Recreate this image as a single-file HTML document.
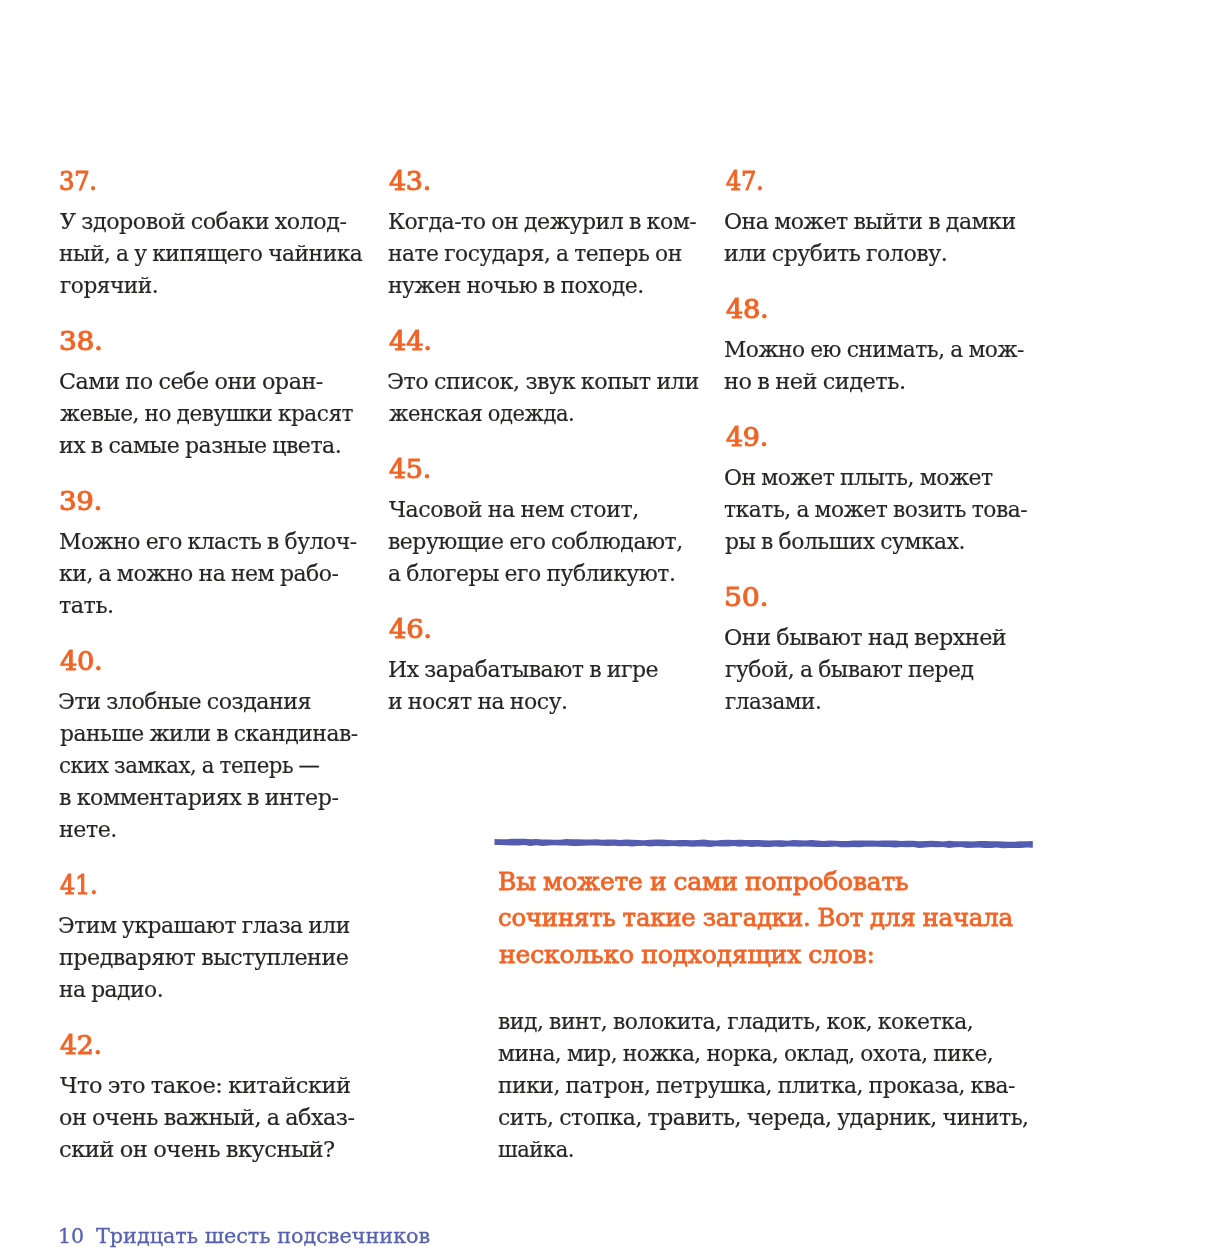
<!DOCTYPE html>
<html lang='ru'>
<head>
<meta charset='utf-8'>
<title>Тридцать шесть подсвечников</title>
<style>
html,body{margin:0;padding:0;background:#fff}
body{width:1226px;height:1255px;position:relative;overflow:hidden;font-family:'DejaVu Serif', 'Liberation Serif', serif}
h2,h3,p,article,section,aside,footer,main{margin:0;padding:0;font-weight:normal;font-size:inherit}
.l{position:absolute;white-space:nowrap;line-height:0;transform-origin:0 0;display:block;font-weight:normal}
.h{font-size:26px;color:#f26426;-webkit-text-stroke:1.0px #f26426;letter-spacing:-0.3px;word-spacing:0px;}
.b{font-size:22px;color:#262524;-webkit-text-stroke:0.15px #262524;letter-spacing:-0.5px;word-spacing:-0.8px;}
.o{font-size:25px;color:#f26426;-webkit-text-stroke:0.8px #f26426;letter-spacing:-0.2px;word-spacing:-0.5px;}
.f{font-size:20.5px;color:#5661b1;-webkit-text-stroke:0.3px #5661b1;}
</style>
</head>
<body>
<main>
<section class='col'>
<article>
<h2><span class='l h' style='left:59.27px;top:180.90px;transform:scaleX(0.9342)'>37.</span></h2>
<p><span class='l b' style='left:59.70px;top:222.30px;transform:scaleX(1.0120)'>У здоровой собаки холод-</span>
<span class='l b' style='left:58.71px;top:254.30px;transform:scaleX(0.9918)'>ный, а у кипящего чайника</span>
<span class='l b' style='left:59.70px;top:286.30px;transform:scaleX(0.9857)'>горячий.</span></p>
</article>
<article>
<h2><span class='l h' style='left:59.12px;top:340.90px;transform:scaleX(1.0763)'>38.</span></h2>
<p><span class='l b' style='left:58.69px;top:382.30px;transform:scaleX(1.0143)'>Сами по себе они оран-</span>
<span class='l b' style='left:59.70px;top:414.30px;transform:scaleX(0.9842)'>жевые, но девушки красят</span>
<span class='l b' style='left:58.70px;top:446.30px;transform:scaleX(1.0025)'>их в самые разные цвета.</span></p>
</article>
<article>
<h2><span class='l h' style='left:59.14px;top:500.90px;transform:scaleX(1.0632)'>39.</span></h2>
<p><span class='l b' style='left:58.70px;top:542.30px;transform:scaleX(0.9953)'>Можно его класть в булоч-</span>
<span class='l b' style='left:58.70px;top:574.30px;transform:scaleX(0.9993)'>ки, а можно на нем рабо-</span>
<span class='l b' style='left:58.69px;top:606.30px;transform:scaleX(1.0135)'>тать.</span></p>
</article>
<article>
<h2><span class='l h' style='left:60.20px;top:660.90px;transform:scaleX(1.0487)'>40.</span></h2>
<p><span class='l b' style='left:57.68px;top:702.30px;transform:scaleX(1.0076)'>Эти злобные создания</span>
<span class='l b' style='left:59.70px;top:734.30px;transform:scaleX(0.9940)'>раньше жили в скандинав-</span>
<span class='l b' style='left:58.73px;top:766.30px;transform:scaleX(0.9683)'>ских замках, а теперь —</span>
<span class='l b' style='left:58.69px;top:798.30px;transform:scaleX(1.0083)'>в комментариях в интер-</span>
<span class='l b' style='left:58.69px;top:830.30px;transform:scaleX(1.0073)'>нете.</span></p>
</article>
<article>
<h2><span class='l h' style='left:60.20px;top:884.90px;transform:scaleX(0.9256)'>41.</span></h2>
<p><span class='l b' style='left:57.71px;top:926.30px;transform:scaleX(0.9935)'>Этим украшают глаза или</span>
<span class='l b' style='left:58.69px;top:958.30px;transform:scaleX(1.0095)'>предваряют выступление</span>
<span class='l b' style='left:58.71px;top:990.30px;transform:scaleX(0.9903)'>на радио.</span></p>
</article>
<article>
<h2><span class='l h' style='left:60.20px;top:1044.90px;transform:scaleX(1.0282)'>42.</span></h2>
<p><span class='l b' style='left:59.70px;top:1086.30px;transform:scaleX(1.0261)'>Что это такое: китайский</span>
<span class='l b' style='left:58.69px;top:1118.30px;transform:scaleX(1.0134)'>он очень важный, а абхаз-</span>
<span class='l b' style='left:58.67px;top:1150.30px;transform:scaleX(1.0273)'>ский он очень вкусный?</span></p>
</article>
</section>
<section class='col'>
<article>
<h2><span class='l h' style='left:389.10px;top:180.90px;transform:scaleX(1.0359)'>43.</span></h2>
<p><span class='l b' style='left:387.60px;top:222.30px;transform:scaleX(1.0029)'>Когда-то он дежурил в ком-</span>
<span class='l b' style='left:387.61px;top:254.30px;transform:scaleX(0.9912)'>нате государя, а теперь он</span>
<span class='l b' style='left:387.60px;top:286.30px;transform:scaleX(0.9961)'>нужен ночью в походе.</span></p>
</article>
<article>
<h2><span class='l h' style='left:389.10px;top:340.90px;transform:scaleX(1.0564)'>44.</span></h2>
<p><span class='l b' style='left:386.57px;top:382.30px;transform:scaleX(1.0131)'>Это список, звук копыт или</span>
<span class='l b' style='left:388.60px;top:414.30px;transform:scaleX(0.9578)'>женская одежда.</span></p>
</article>
<article>
<h2><span class='l h' style='left:389.10px;top:468.90px;transform:scaleX(1.0359)'>45.</span></h2>
<p><span class='l b' style='left:388.60px;top:510.30px;transform:scaleX(1.0061)'>Часовой на нем стоит,</span>
<span class='l b' style='left:387.60px;top:542.30px;transform:scaleX(0.9980)'>верующие его соблюдают,</span>
<span class='l b' style='left:387.60px;top:574.30px;transform:scaleX(0.9958)'>а блогеры его публикуют.</span></p>
</article>
<article>
<h2><span class='l h' style='left:389.10px;top:628.90px;transform:scaleX(1.0564)'>46.</span></h2>
<p><span class='l b' style='left:387.60px;top:670.30px;transform:scaleX(1.0004)'>Их зарабатывают в игре</span>
<span class='l b' style='left:387.60px;top:702.30px;transform:scaleX(1.0006)'>и носят на носу.</span></p>
</article>
</section>
<section class='col'>
<article>
<h2><span class='l h' style='left:725.70px;top:180.90px;transform:scaleX(0.9256)'>47.</span></h2>
<p><span class='l b' style='left:724.20px;top:222.30px;transform:scaleX(1.0031)'>Она может выйти в дамки</span>
<span class='l b' style='left:724.19px;top:254.30px;transform:scaleX(1.0059)'>или срубить голову.</span></p>
</article>
<article>
<h2><span class='l h' style='left:725.70px;top:308.90px;transform:scaleX(1.0487)'>48.</span></h2>
<p><span class='l b' style='left:724.21px;top:350.30px;transform:scaleX(0.9894)'>Можно ею снимать, а мож-</span>
<span class='l b' style='left:724.18px;top:382.30px;transform:scaleX(1.0205)'>но в ней сидеть.</span></p>
</article>
<article>
<h2><span class='l h' style='left:725.70px;top:436.90px;transform:scaleX(1.0359)'>49.</span></h2>
<p><span class='l b' style='left:724.20px;top:478.30px;transform:scaleX(0.9966)'>Он может плыть, может</span>
<span class='l b' style='left:724.21px;top:510.30px;transform:scaleX(0.9934)'>ткать, а может возить това-</span>
<span class='l b' style='left:725.20px;top:542.30px;transform:scaleX(0.9950)'>ры в больших сумках.</span></p>
</article>
<article>
<h2><span class='l h' style='left:723.52px;top:596.90px;transform:scaleX(1.0919)'>50.</span></h2>
<p><span class='l b' style='left:724.19px;top:638.30px;transform:scaleX(1.0148)'>Они бывают над верхней</span>
<span class='l b' style='left:725.20px;top:670.30px;transform:scaleX(0.9952)'>губой, а бывают перед</span>
<span class='l b' style='left:725.20px;top:702.30px;transform:scaleX(0.9773)'>глазами.</span></p>
</article>
</section>
<aside>
<svg style="position:absolute;left:0;top:0" width="1226" height="1255" viewBox="0 0 1226 1255"><polygon fill="#545cb2" points="494.5,838.9 500.5,839.3 506.5,839.2 512.4,838.8 518.4,838.8 524.4,838.8 530.4,839.2 536.4,838.9 542.3,839.4 548.3,839.4 554.3,839.8 560.3,839.7 566.3,839.1 572.3,839.3 578.2,839.2 584.2,839.6 590.2,839.6 596.2,839.2 602.2,839.7 608.1,839.4 614.1,839.6 620.1,839.9 626.1,839.5 632.1,839.7 638.0,839.9 644.0,840.2 650.0,839.7 656.0,839.5 662.0,839.4 668.0,840.1 673.9,840.2 679.9,840.1 685.9,840.0 691.9,840.3 697.9,840.0 703.8,839.6 709.8,840.2 715.8,840.4 721.8,840.0 727.8,839.7 733.7,839.9 739.7,839.8 745.7,839.9 751.7,840.1 757.7,839.9 763.6,840.3 769.6,840.6 775.6,840.2 781.6,840.3 787.6,840.8 793.6,840.1 799.5,840.2 805.5,840.6 811.5,840.1 817.5,840.4 823.5,841.0 829.4,840.6 835.4,840.8 841.4,841.0 847.4,841.0 853.4,840.6 859.3,840.4 865.3,840.4 871.3,840.5 877.3,840.7 883.3,840.4 889.3,840.5 895.2,840.5 901.2,841.0 907.2,840.7 913.2,840.8 919.2,841.3 925.1,841.0 931.1,840.7 937.1,840.9 943.1,841.4 949.1,840.7 955.0,841.2 961.0,841.2 967.0,841.2 973.0,841.6 979.0,841.0 985.0,841.0 990.9,841.3 996.9,841.2 1002.9,841.6 1008.9,841.7 1014.9,841.7 1020.8,841.2 1026.8,841.3 1032.8,841.1 1032.8,847.7 1026.8,847.4 1020.8,847.9 1014.9,848.1 1008.9,848.1 1002.9,848.2 996.9,847.5 990.9,848.0 985.0,847.9 979.0,847.5 973.0,847.8 967.0,848.1 961.0,847.1 955.0,847.2 949.1,848.0 943.1,847.1 937.1,847.2 931.1,847.0 925.1,847.4 919.2,847.9 913.2,847.0 907.2,847.2 901.2,846.9 895.2,847.6 889.3,847.1 883.3,846.9 877.3,846.7 871.3,846.8 865.3,846.7 859.3,847.2 853.4,847.0 847.4,847.3 841.4,847.3 835.4,846.5 829.4,847.1 823.5,847.1 817.5,847.0 811.5,846.8 805.5,846.6 799.5,846.8 793.6,846.5 787.6,846.4 781.6,847.1 775.6,846.6 769.6,847.0 763.6,847.0 757.7,846.6 751.7,847.0 745.7,846.3 739.7,846.8 733.7,846.1 727.8,846.4 721.8,846.6 715.8,846.2 709.8,846.9 703.8,846.6 697.9,846.5 691.9,846.8 685.9,846.2 679.9,846.4 673.9,846.0 668.0,846.3 662.0,846.3 656.0,846.1 650.0,846.4 644.0,845.7 638.0,845.9 632.1,846.4 626.1,846.1 620.1,846.2 614.1,845.8 608.1,846.0 602.2,845.8 596.2,845.6 590.2,845.4 584.2,845.7 578.2,845.9 572.3,846.1 566.3,845.4 560.3,845.5 554.3,845.2 548.3,845.5 542.3,846.1 536.4,845.3 530.4,845.9 524.4,845.1 518.4,845.4 512.4,845.5 506.5,845.3 500.5,845.0 494.5,845.1"/></svg>
<h3><span class='l o' style='left:497.90px;top:882.00px;transform:scaleX(0.9988)'>Вы можете и сами попробовать</span>
<span class='l o' style='left:497.92px;top:918.30px;transform:scaleX(0.9753)'>сочинять такие загадки. Вот для начала</span>
<span class='l o' style='left:498.90px;top:954.70px;transform:scaleX(1.0027)'>несколько подходящих слов:</span></h3>
<p><span class='l b' style='left:498.20px;top:1022.00px;transform:scaleX(0.9964)'>вид, винт, волокита, гладить, кок, кокетка,</span>
<span class='l b' style='left:498.21px;top:1054.00px;transform:scaleX(0.9878)'>мина, мир, ножка, норка, оклад, охота, пике,</span>
<span class='l b' style='left:498.21px;top:1086.00px;transform:scaleX(0.9936)'>пики, патрон, петрушка, плитка, проказа, ква-</span>
<span class='l b' style='left:498.20px;top:1118.00px;transform:scaleX(0.9989)'>сить, стопка, травить, череда, ударник, чинить,</span>
<span class='l b' style='left:498.24px;top:1150.00px;transform:scaleX(0.9623)'>шайка.</span></p>
</aside>
</main>
<footer><span class='l f' style='left:57.69px;top:1236.00px;transform:scaleX(1.0043)'>10</span>
<span class='l f' style='left:96.30px;top:1236.00px;transform:scaleX(1.0112)'>Тридцать шесть подсвечников</span></footer>
</body>
</html>
